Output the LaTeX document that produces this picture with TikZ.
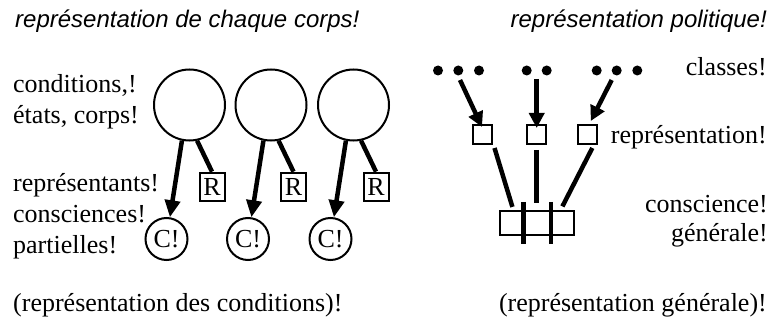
\documentclass[tikz,border=0pt]{standalone}
\usepackage{fontspec}
\setmainfont{Liberation Serif}
\newfontfamily\headfont{Liberation Sans}
\usetikzlibrary{arrows.meta}
\begin{document}
\begin{tikzpicture}[x=1pt,y=-1pt,
  lbl/.style={inner sep=0pt,font=\fontsize{26}{30}\selectfont},
  head/.style={inner sep=0pt,font=\headfont\itshape\fontsize{24}{28}\selectfont},
  body/.style={circle,draw,line width=2pt,minimum size=71pt,inner sep=0pt},
  cons/.style={circle,draw,line width=2pt,minimum size=42pt,inner sep=0pt,font=\fontsize{26}{30}\selectfont},
  rbox/.style={draw,line width=2pt,minimum width=25pt,minimum height=28pt,inner sep=0pt,font=\fontsize{26}{30}\selectfont},
  arr/.style={line width=4.5pt,-{Triangle[length=17pt,width=15pt]}},
  arrs/.style={line width=4.5pt,-{Triangle[length=15pt,width=15pt]}},
  link/.style={line width=4.5pt},
  dot/.style={circle,fill,minimum size=10pt,inner sep=0pt},
  sq/.style={draw,line width=2pt,minimum size=19pt,inner sep=0pt},
  bar/.style={draw,line width=2pt,minimum width=74pt,minimum height=24pt,inner sep=0pt},
]
\useasboundingbox (0,0) rectangle (770,323);

% ---- left part: each body with its representative and partial consciousness
\node[head,anchor=base west] (t1) at (15,28) {représentation de chaque corps!};

\node[lbl,anchor=base west] (l1) at (13,93) {conditions,!};
\node[lbl,anchor=base west] (l2) at (13,124) {états, corps!};
\node[lbl,anchor=base west] (l3) at (13,191) {représentants!};
\node[lbl,anchor=base west] (l4) at (13,222) {consciences!};
\node[lbl,anchor=base west] (l5) at (13,253) {partielles!};
\node[lbl,anchor=base west] (l6) at (13,311) {(représentation des conditions)!};

\foreach \i/\x in {1/189.5, 2/271, 3/353.5} {
  \node[body] (b\i) at (\x,105) {};
  \node[cons] (c\i) at (\x-23,239) {C!};
  \node[rbox] (r\i) at (\x+22.5,186.7) {R};
  \draw[arr] (b\i.258) -- (c\i);
  \draw[link] (b\i.282) -- (r\i.north);
}

% ---- right part: classes, their representation, general consciousness
\node[head,anchor=base east] (t2) at (767,28) {représentation politique!};

\node[lbl,anchor=base east] (k1) at (767,76) {classes!};
\node[lbl,anchor=base east] (k2) at (767,144) {représentation!};
\node[lbl,anchor=base east] (k3) at (768,212) {conscience!};
\node[lbl,anchor=base east] (k4) at (768,241) {générale!};
\node[lbl,anchor=base east] (k5) at (767,311) {(représentation générale)!};

\node[dot] (d11) at (438,70.5) {};
\node[dot] (d12) at (458.3,70.5) {};
\node[dot] (d13) at (479,70.5) {};
\node[dot] (d21) at (526.7,70.5) {};
\node[dot] (d22) at (546.7,70.5) {};
\node[dot] (d31) at (596.7,70.5) {};
\node[dot] (d32) at (616.7,70.5) {};
\node[dot] (d33) at (637.3,70.5) {};

\node[sq] (s1) at (482,134.5) {};
\node[sq] (s2) at (536.7,134.5) {};
\node[sq] (s3) at (587.8,134.5) {};

\coordinate (a1) at (460,80);
\coordinate (a2) at (536.7,79);
\coordinate (a3) at (611.7,80);
\draw[arrs] (a1) -- ([yshift=-3]s1.north);
\draw[arrs] (a2) -- ([yshift=-4]s2.north);
\draw[arrs] (a3) -- ([shift={(3,-3)}]s3.north);

\node[bar] (g) at (537.4,222.9) {};
\draw[link] ([shift={(-14,-8)}]g.north) -- ([shift={(-14,8)}]g.south);
\draw[link] ([shift={(13.5,-8)}]g.north) -- ([shift={(13.5,8)}]g.south);

\draw[link] ([shift={(2,3)}]s1.south east) -- ([shift={(13,-3)}]g.north west);
\draw[link] ([shift={(0,5)}]s2.south) -- ([shift={(-0.7,-6.5)}]g.north);
\draw[link] ([shift={(-6,3)}]s3.south east) -- ([shift={(-13,-3.5)}]g.north east);
\end{tikzpicture}
\end{document}
